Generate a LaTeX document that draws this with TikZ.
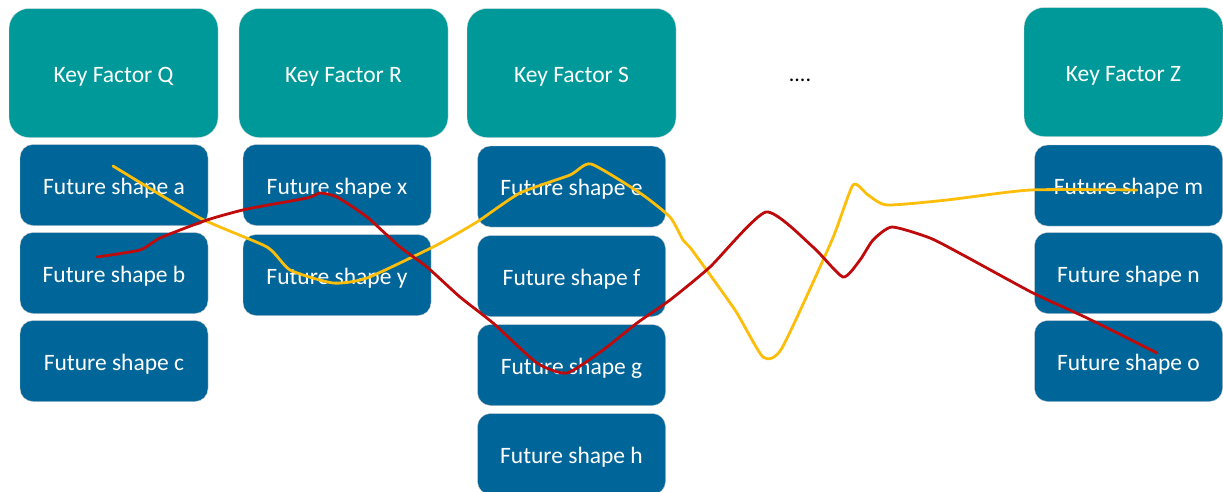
\documentclass[tikz,border=0pt]{standalone}
\usepackage{fontspec}
\setmainfont{Carlito}

\definecolor{factorteal}{RGB}{0,153,153}
\definecolor{shapeblue}{RGB}{0,101,153}
\definecolor{pathgold}{RGB}{252,190,10}
\definecolor{pathred}{RGB}{190,10,10}

\begin{document}
\begin{tikzpicture}
        [x=1pt, y=-1pt,
         factor/.style={draw=gray!25, fill=factorteal, rounded corners=20pt, minimum width=209pt, minimum height=129pt, text=white, font=\fontsize{23.5}{27}\selectfont, text height=18pt, text depth=0pt},
         fshape/.style={draw=gray!40, fill=shapeblue, rounded corners=13pt, minimum width=188pt, minimum height=81pt, text=white, font=\fontsize{23.5}{27}\selectfont, text height=18pt, text depth=0pt},
         scenario/.style={line width=2.8pt, line join=round, line cap=round}]

        \useasboundingbox (0,0) rectangle (1223,491);

        % key factors
        \node[factor] (kq) at (113.5, 73) {Key Factor Q};
        \node[factor] (kr) at (343.5, 73) {Key Factor R};
        \node[factor] (ks) at (571.5, 73) {Key Factor S};
        \node (dots) at (800, 80) {\fontsize{22}{24}\selectfont ....};
        \node[factor, minimum width=199pt] (kz) at (1123.5, 72) {Key Factor Z};

        % future shapes
        \node[fshape] (fa) at (114, 185) {Future shape a};
        \node[fshape] (fb) at (114, 273) {Future shape b};
        \node[fshape] (fc) at (114, 361) {Future shape c};
        \node[fshape] (fx) at (337, 185) {Future shape x};
        \node[fshape] (fy) at (337, 275) {Future shape y};
        \node[fshape] (fe) at (571.5, 186.5) {Future shape e};
        \node[fshape] (ff) at (571.5, 276) {Future shape f};
        \node[fshape] (fg) at (571.5, 365) {Future shape g};
        \node[fshape] (fh) at (571.5, 454) {Future shape h};
        \node[fshape] (fm) at (1128.5, 185.5) {Future shape m};
        \node[fshape] (fn) at (1128.5, 273) {Future shape n};
        \node[fshape] (fo) at (1128.5, 361) {Future shape o};

        % scenario paths
        \draw[scenario, pathgold] plot[smooth, tension=0.35] coordinates {(113,166) (200,218) (267,247) (290,270) (333,283) (367,278) (433,247) (460,232) (480,220) (520,193) (570,175) (591,164) (640,193) (670,217) (683,240) (692,250) (735,310) (763,357) (782,348) (832,240) (853,185) (868,195) (887,205) (947,200) (1030,190) (1137,190)};
        \draw[scenario, pathred] plot[smooth, tension=0.35] coordinates {(97,257) (140,250) (160,238) (207,220) (247,209) (307,198) (320,193) (337,197) (367,217) (400,247) (427,267) (460,297) (493,323) (537,363) (567,373) (603,350) (637,323) (670,300) (710,267) (766,212) (813,247) (843,277) (860,260) (873,240) (892,227) (930,238) (963,255) (1033,293) (1087,318) (1157,353)};
      \end{tikzpicture}
\end{document}
